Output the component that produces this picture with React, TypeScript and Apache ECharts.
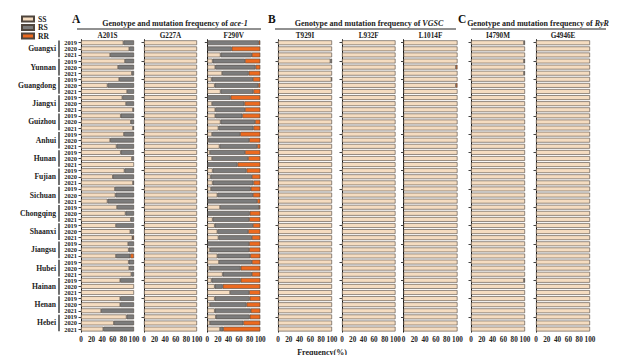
import React, { useEffect, useRef } from "react";
import * as echarts from "echarts";

const FONT = '"Liberation Serif", "Times New Roman", serif';

const provinces = [
  "Guangxi", "Yunnan", "Guangdong", "Jiangxi", "Guizhou", "Anhui", "Hunan", "Fujian",
  "Sichuan", "Chongqing", "Shaanxi", "Jiangsu", "Hubei", "Hainan", "Henan", "Hebei",
];
const years = ["2019", "2020", "2021"];
const genotypes = ["SS", "RS", "RR"];
const xTicks = { min: 0, max: 100, interval: 20 };

// ace-1 A201S
const A201S_SS = [80, 91, 55, 83, 70, 96, 72, 50, 87, 78, 85, 98, 75, 94, 98, 81, 55, 67, 75, 96, 100, 82, 60, 98, 64, 65, 50, 68, 84, 94, 66, 93, 97, 89, 90, 66, 90, 91, 95, 74, 100, 100, 74, 74, 38, 86, 62, 42];
const A201S_RS = [20, 9, 45, 17, 30, 4, 28, 50, 13, 22, 15, 2, 25, 6, 2, 19, 45, 33, 25, 4, 0, 18, 40, 2, 36, 35, 50, 32, 16, 6, 34, 7, 1, 11, 10, 27, 10, 9, 5, 26, 0, 0, 26, 26, 62, 14, 38, 58];
const A201S_RR = [0, 0, 0, 0, 0, 0, 0, 0, 0, 0, 0, 0, 0, 0, 0, 0, 0, 0, 0, 0, 0, 0, 0, 0, 0, 0, 0, 0, 0, 0, 0, 0, 2, 0, 0, 7, 0, 0, 0, 0, 0, 0, 0, 0, 0, 0, 0, 0];
// ace-1 G227A
const G227A_SS = [100, 100, 100, 100, 100, 100, 100, 100, 100, 100, 100, 100, 100, 100, 100, 100, 100, 100, 100, 100, 100, 100, 100, 100, 100, 100, 100, 100, 100, 100, 100, 100, 100, 100, 100, 100, 100, 100, 100, 100, 100, 100, 100, 100, 100, 100, 100, 100];
const G227A_RS = [0, 0, 0, 0, 0, 0, 0, 0, 0, 0, 0, 0, 0, 0, 0, 0, 0, 0, 0, 0, 0, 0, 0, 0, 0, 0, 0, 0, 0, 0, 0, 0, 0, 0, 0, 0, 0, 0, 0, 0, 0, 0, 0, 0, 0, 0, 0, 0];
const G227A_RR = [0, 0, 0, 0, 0, 0, 0, 0, 0, 0, 0, 0, 0, 0, 0, 0, 0, 0, 0, 0, 0, 0, 0, 0, 0, 0, 0, 0, 0, 0, 0, 0, 0, 0, 0, 0, 0, 0, 0, 0, 0, 0, 0, 0, 0, 0, 0, 0];
// ace-1 F290V
const F290V_SS = [0, 0, 25, 10, 15, 28, 8, 14, 25, 0, 9, 15, 15, 25, 21, 9, 2, 23, 5, 9, 0, 10, 6, 10, 7, 19, 0, 24, 0, 10, 14, 19, 21, 0, 5, 19, 22, 4, 29, 8, 14, 43, 14, 5, 14, 16, 5, 24];
const F290V_RS = [97, 46, 59, 61, 76, 50, 78, 82, 62, 44, 61, 56, 51, 65, 66, 53, 77, 71, 66, 68, 57, 64, 78, 77, 75, 67, 94, 74, 80, 69, 72, 58, 63, 79, 74, 62, 62, 59, 55, 55, 15, 36, 66, 69, 68, 64, 63, 6];
const F290V_RR = [3, 54, 16, 29, 9, 22, 14, 4, 13, 56, 30, 29, 34, 10, 13, 38, 21, 6, 29, 23, 43, 26, 16, 13, 18, 14, 6, 2, 20, 21, 14, 23, 16, 21, 21, 19, 16, 37, 16, 37, 71, 21, 20, 26, 18, 20, 32, 70];
// VGSC T929I
const T929I_SS = [100, 100, 100, 97, 100, 100, 99, 100, 100, 100, 100, 100, 100, 100, 100, 100, 100, 100, 100, 100, 100, 100, 100, 100, 100, 100, 100, 100, 100, 100, 100, 100, 100, 100, 100, 100, 100, 100, 100, 100, 100, 100, 100, 100, 100, 100, 100, 100];
const T929I_RS = [0, 0, 0, 3, 0, 0, 1, 0, 0, 0, 0, 0, 0, 0, 0, 0, 0, 0, 0, 0, 0, 0, 0, 0, 0, 0, 0, 0, 0, 0, 0, 0, 0, 0, 0, 0, 0, 0, 0, 0, 0, 0, 0, 0, 0, 0, 0, 0];
const T929I_RR = [0, 0, 0, 0, 0, 0, 0, 0, 0, 0, 0, 0, 0, 0, 0, 0, 0, 0, 0, 0, 0, 0, 0, 0, 0, 0, 0, 0, 0, 0, 0, 0, 0, 0, 0, 0, 0, 0, 0, 0, 0, 0, 0, 0, 0, 0, 0, 0];
// VGSC L932F
const L932F_SS = [100, 100, 100, 100, 100, 100, 100, 100, 100, 100, 100, 100, 100, 100, 100, 100, 100, 100, 100, 100, 100, 100, 100, 100, 100, 100, 100, 100, 100, 100, 100, 100, 100, 100, 100, 100, 100, 100, 100, 100, 100, 100, 100, 100, 100, 100, 100, 100];
const L932F_RS = [0, 0, 0, 0, 0, 0, 0, 0, 0, 0, 0, 0, 0, 0, 0, 0, 0, 0, 0, 0, 0, 0, 0, 0, 0, 0, 0, 0, 0, 0, 0, 0, 0, 0, 0, 0, 0, 0, 0, 0, 0, 0, 0, 0, 0, 0, 0, 0];
const L932F_RR = [0, 0, 0, 0, 0, 0, 0, 0, 0, 0, 0, 0, 0, 0, 0, 0, 0, 0, 0, 0, 0, 0, 0, 0, 0, 0, 0, 0, 0, 0, 0, 0, 0, 0, 0, 0, 0, 0, 0, 0, 0, 0, 0, 0, 0, 0, 0, 0];
// VGSC L1014F
const L1014F_SS = [100, 100, 100, 100, 97, 100, 100, 97, 100, 100, 100, 100, 100, 100, 100, 100, 100, 100, 100, 100, 100, 100, 100, 100, 100, 100, 100, 100, 100, 100, 100, 100, 100, 100, 100, 100, 100, 100, 100, 100, 100, 100, 100, 100, 100, 100, 100, 100];
const L1014F_RS = [0, 0, 0, 0, 0, 0, 0, 0, 0, 0, 0, 0, 0, 0, 0, 0, 0, 0, 0, 0, 0, 0, 0, 0, 0, 0, 0, 0, 0, 0, 0, 0, 0, 0, 0, 0, 0, 0, 0, 0, 0, 0, 0, 0, 0, 0, 0, 0];
const L1014F_RR = [0, 0, 0, 0, 3, 0, 0, 3, 0, 0, 0, 0, 0, 0, 0, 0, 0, 0, 0, 0, 0, 0, 0, 0, 0, 0, 0, 0, 0, 0, 0, 0, 0, 0, 0, 0, 0, 0, 0, 0, 0, 0, 0, 0, 0, 0, 0, 0];
// RyR I4790M
const I4790M_SS = [98, 100, 100, 98, 100, 98, 100, 100, 100, 100, 100, 100, 100, 100, 100, 100, 100, 100, 100, 100, 100, 100, 100, 100, 100, 100, 100, 100, 100, 100, 100, 100, 100, 100, 100, 100, 100, 100, 100, 98, 100, 100, 100, 100, 100, 100, 100, 100];
const I4790M_RS = [2, 0, 0, 2, 0, 2, 0, 0, 0, 0, 0, 0, 0, 0, 0, 0, 0, 0, 0, 0, 0, 0, 0, 0, 0, 0, 0, 0, 0, 0, 0, 0, 0, 0, 0, 0, 0, 0, 0, 2, 0, 0, 0, 0, 0, 0, 0, 0];
const I4790M_RR = [0, 0, 0, 0, 0, 0, 0, 0, 0, 0, 0, 0, 0, 0, 0, 0, 0, 0, 0, 0, 0, 0, 0, 0, 0, 0, 0, 0, 0, 0, 0, 0, 0, 0, 0, 0, 0, 0, 0, 0, 0, 0, 0, 0, 0, 0, 0, 0];
// RyR G4946E
const G4946E_SS = [100, 100, 100, 100, 100, 100, 100, 100, 100, 100, 100, 100, 100, 100, 100, 100, 100, 100, 100, 100, 100, 100, 100, 100, 100, 100, 100, 100, 100, 100, 100, 100, 100, 100, 100, 100, 100, 100, 100, 100, 100, 100, 100, 100, 100, 100, 100, 100];
const G4946E_RS = [0, 0, 0, 0, 0, 0, 0, 0, 0, 0, 0, 0, 0, 0, 0, 0, 0, 0, 0, 0, 0, 0, 0, 0, 0, 0, 0, 0, 0, 0, 0, 0, 0, 0, 0, 0, 0, 0, 0, 0, 0, 0, 0, 0, 0, 0, 0, 0];
const G4946E_RR = [0, 0, 0, 0, 0, 0, 0, 0, 0, 0, 0, 0, 0, 0, 0, 0, 0, 0, 0, 0, 0, 0, 0, 0, 0, 0, 0, 0, 0, 0, 0, 0, 0, 0, 0, 0, 0, 0, 0, 0, 0, 0, 0, 0, 0, 0, 0, 0];

const COLORS = ["#F5DCC0", "#7C7C7C", "#EC6A20"];

const panels = [
  { name: "A201S", left: 81, width: 53, data: [A201S_SS, A201S_RS, A201S_RR] },
  { name: "G227A", left: 144, width: 53, data: [G227A_SS, G227A_RS, G227A_RR] },
  { name: "F290V", left: 207.3, width: 53, data: [F290V_SS, F290V_RS, F290V_RR] },
  { name: "T929I", left: 278, width: 54, data: [T929I_SS, T929I_RS, T929I_RR] },
  { name: "L932F", left: 342, width: 53.5, data: [L932F_SS, L932F_RS, L932F_RR] },
  { name: "L1014F", left: 403.5, width: 54, data: [L1014F_SS, L1014F_RS, L1014F_RR] },
  { name: "I4790M", left: 471, width: 54, data: [I4790M_SS, I4790M_RS, I4790M_RR] },
  { name: "G4946E", left: 536, width: 54, data: [G4946E_SS, G4946E_RS, G4946E_RR] },
];

const groups = [
  { letter: "A", lx: 72, title: "Genotype and mutation frequency of ", gene: "ace-1", x1: 77, x2: 261, tx: 175 },
  { letter: "B", lx: 268, title: "Genotype and mutation frequency of ", gene: "VGSC", x1: 275, x2: 456, tx: 369 },
  { letter: "C", lx: 458, title: "Genotype and mutation frequency of ", gene: "RyR", x1: 471, x2: 606, tx: 538 },
];

const rowCats = provinces.flatMap((p) => years.map((y) => `${p} ${y}`));

const GRID_TOP = 39.7;
const GRID_H = 292.4;

export default function App() {
  const ref = useRef<HTMLDivElement>(null);

  useEffect(() => {
    if (!ref.current) return;
    const chart = echarts.init(ref.current, undefined, { renderer: "svg" });

    const grid = panels.map((p) => ({ left: p.left, top: GRID_TOP, width: p.width, height: GRID_H }));
    const xAxis = panels.map((p, k) => ({
      type: "value",
      gridIndex: k,
      ...xTicks,
      axisLine: { show: false },
      axisTick: { show: false },
      splitLine: { show: false },
      axisLabel: { fontSize: 7.2, fontWeight: "bold", fontFamily: FONT, color: "#222", margin: 4 },
    }));
    const yAxis = panels.map((p, k) => ({
      type: "category",
      gridIndex: k,
      inverse: true,
      data: rowCats,
      axisLine: { show: true, lineStyle: { color: "#111", width: 1 } },
      axisTick: { show: true, length: 2.5, alignWithLabel: true, lineStyle: { color: "#111", width: 0.8 } },
      splitLine: { show: false },
      axisLabel:
        k === 0
          ? {
              show: true,
              interval: 0,
              fontSize: 6.4,
              fontWeight: "bold",
              fontFamily: FONT,
              color: "#222",
              margin: 4,
              formatter: (v: string) => v.split(" ")[1],
            }
          : { show: false },
    }));

    const series: any[] = [];
    panels.forEach((p, k) => {
      genotypes.forEach((g, gi) => {
        series.push({
          type: "bar",
          name: g,
          stack: "s" + k,
          xAxisIndex: k,
          yAxisIndex: k,
          barCategoryGap: "22%",
          silent: true,
          itemStyle: { color: COLORS[gi], borderColor: "#4f453d", borderWidth: 0.6 },
          data: p.data[gi].map((v) => (v === 0 ? null : v)),
        });
      });
    });

    series.push({
      type: "custom",
      xAxisIndex: 0,
      yAxisIndex: 0,
      clip: false,
      silent: true,
      z: 10,
      encode: { x: 0, y: 1 },
      data: provinces.map((_, i) => [0, i * 3 + 1, i]),
      renderItem: (params: any, api: any) => {
        const idx = api.value(2);
        const c = api.coord([0, idx * 3 + 1]);
        const band = api.size([0, 1])[1];
        const bx = c[0] - 22;
        return {
          type: "group",
          children: [
            {
              type: "line",
              shape: { x1: bx, y1: c[1] - 1.5 * band + 0.8, x2: bx, y2: c[1] + 1.5 * band - 0.8 },
              style: { stroke: "#111", lineWidth: 1.2 },
            },
            {
              type: "text",
              x: bx - 3,
              y: c[1],
              style: {
                text: provinces[idx],
                align: "right",
                textAlign: "right",
                verticalAlign: "middle",
                textVerticalAlign: "middle",
                font: `bold 7.6px ${FONT}`,
                fill: "#222",
              },
            },
          ],
        };
      },
    });

    const graphic: any[] = [];
    groups.forEach((g) => {
      graphic.push({
        type: "text",
        x: g.lx,
        y: 19,
        style: {
          text: g.letter,
          font: `bold 11.5px ${FONT}`,
          fill: "#111",
          align: "left",
          textAlign: "left",
          verticalAlign: "middle",
          textVerticalAlign: "middle",
        },
      });
      graphic.push({
        type: "text",
        x: g.tx,
        y: 23,
        style: {
          text: `${g.title}{i|${g.gene}}`,
          font: `bold 8px ${FONT}`,
          fill: "#222",
          align: "center",
          textAlign: "center",
          verticalAlign: "middle",
          textVerticalAlign: "middle",
          rich: { i: { fontStyle: "italic", fontWeight: "bold", fontSize: 8, fontFamily: FONT, fill: "#222" } },
        },
      });
      graphic.push({
        type: "line",
        shape: { x1: g.x1, y1: 29, x2: g.x2, y2: 29 },
        style: { stroke: "#222", lineWidth: 1 },
      });
    });
    panels.forEach((p) => {
      graphic.push({
        type: "text",
        x: p.left + p.width / 2,
        y: 36,
        style: {
          text: p.name,
          font: `bold 7.2px ${FONT}`,
          fill: "#222",
          align: "center",
          textAlign: "center",
          verticalAlign: "middle",
          textVerticalAlign: "middle",
        },
      });
    });
    graphic.push({
      type: "text",
      x: 322,
      y: 352,
      style: {
        text: "Frequency(%)",
        font: `bold 8px ${FONT}`,
        fill: "#222",
        align: "center",
        textAlign: "center",
        verticalAlign: "middle",
        textVerticalAlign: "middle",
      },
    });

    chart.setOption({
      animation: false,
      backgroundColor: "#ffffff",
      legend: {
        show: true,
        orient: "vertical",
        left: 21,
        top: 15,
        padding: 0,
        itemWidth: 12,
        itemHeight: 5,
        itemGap: 0.5,
        icon: "rect",
        data: genotypes,
        selectedMode: false,
        textStyle: { fontSize: 7.6, fontWeight: "bold", fontFamily: FONT, color: "#222", lineHeight: 7.4, padding: [0, 0, 0, -1] },
      },
      grid,
      xAxis,
      yAxis,
      series,
      graphic,
    });

    return () => chart.dispose();
  }, []);

  return <div ref={ref} style={{ width: 619, height: 363, margin: -8 }} />;
}
